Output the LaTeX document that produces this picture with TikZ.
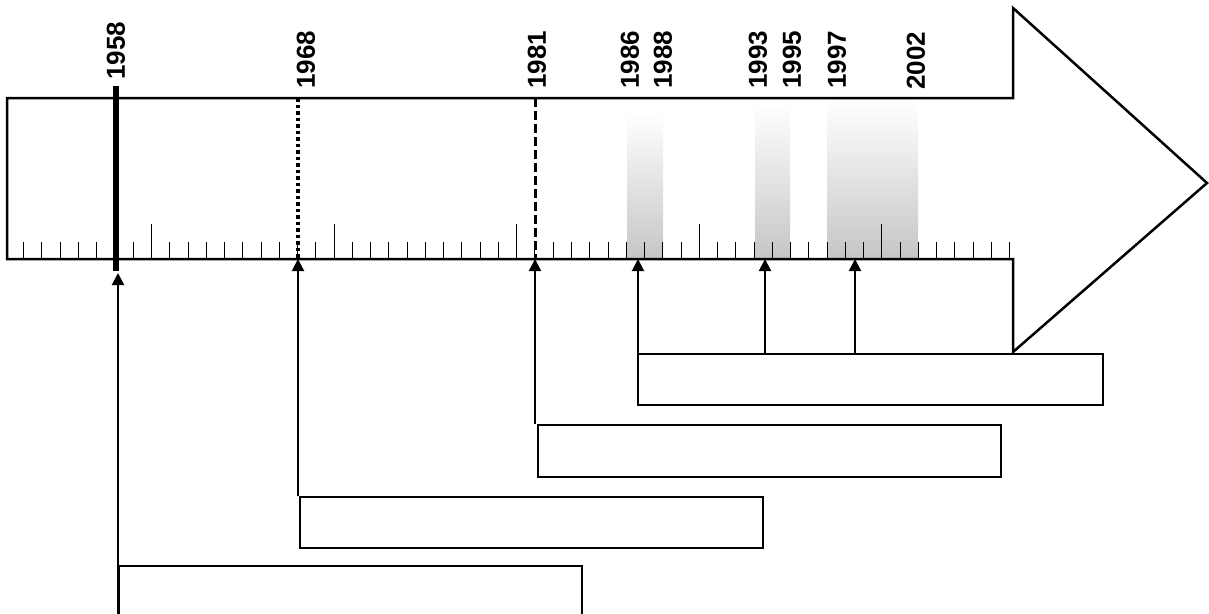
\documentclass[tikz,border=0pt]{standalone}
\usepackage{fontspec}
\setmainfont{Liberation Sans}
\usetikzlibrary{positioning,arrows.meta}

\begin{document}
\begin{tikzpicture}[x=1pt,y=-1pt,
  yr/.style={rotate=90,anchor=west,inner sep=0pt,font=\fontsize{26}{30}\selectfont\bfseries},
  tk/.style={line width=1pt},
  up/.style={line width=2pt,-{Triangle[length=12pt,width=12pt]}},
  bx/.style={draw,line width=2pt,anchor=north west,inner sep=0pt,minimum width=463pt},
  hit/.style={top color=white,bottom color=gray!45}]
  \useasboundingbox (0,0) rectangle (1209,613);
  \clip (0,0) rectangle (1209,613);
  \coordinate (a) at (7,98);
  \coordinate (b) at (7,259);
  \coordinate (c) at (1013,98);
  \coordinate (d) at (1013,259);
  \coordinate (e) at (1013,8);
  \coordinate (f) at (1207,183);
  \coordinate (g) at (1013,352);
  % grey bands
  \shade[hit] (627,113) rectangle (663,259);
  \shade[hit] (755,103) rectangle (790,259);
  \shade[hit] (827,100) rectangle (918,259);
  \foreach \y in {1953,...,2007} {
    \pgfmathsetmacro\h{mod(\y,10)==0 ? 35 : 17}
    \draw[tk] ({115+(\y-1958)*18.26},259) -- ++(0,-\h);
  }
  \draw[line width=2.5pt] (a) -- (c) -- (e) -- (f) -- (g) -- (d) -- (b) -- cycle;
  \coordinate (s58) at (116,86);
  \coordinate (e58) at (116,271);
  \coordinate (t58) at (118,273);
  \coordinate (t68) at (298,259);
  \coordinate (t81) at (535,259);
  \coordinate (t86) at (638,259);
  \coordinate (t93) at (765,259);
  \coordinate (t98) at (855,259);
  \draw[line width=6pt] (s58) -- (e58);
  \draw[line width=3.5pt,dash pattern=on 3.5pt off 3pt] (t68 |- a) -- (t68);
  \draw[line width=3pt,dash pattern=on 9pt off 4pt] (t81 |- a) -- (t81);
  \node[yr] (l58) at (116,80) {1958};
  \node[yr] (l68) at (306,89) {1968};
  \node[yr] (l81) at (537,89) {1981};
  \node[yr] (l86) at (630,89) {1986};
  \node[yr] (l88) at (663,89) {1988};
  \node[yr] (l93) at (758,89) {1993};
  \node[yr] (l95) at (792,89) {1995};
  \node[yr] (l97) at (837,89) {1997};
  \node[yr] (l02) at (916,90) {2002};
  \node[bx,minimum height=100pt] (b58) at (118,565) {};
  \node[bx,minimum height=51pt] (b68) at (299,496) {};
  \node[bx,minimum height=52pt] (b81) at (537,424) {};
  \node[bx,minimum height=51pt,minimum width=465pt] (b86) at (637,353) {};
  \draw[up] (b58.south west) -- (t58);
  \draw[up] (t68 |- b68.north) -- (t68);
  \draw[up] (t81 |- b81.north) -- (t81);
  \draw[up] (t86 |- b86.north) -- (t86);
  \draw[up] (t93 |- b86.north) -- (t93);
  \draw[up] (t98 |- b86.north) -- (t98);
\end{tikzpicture}
\end{document}
